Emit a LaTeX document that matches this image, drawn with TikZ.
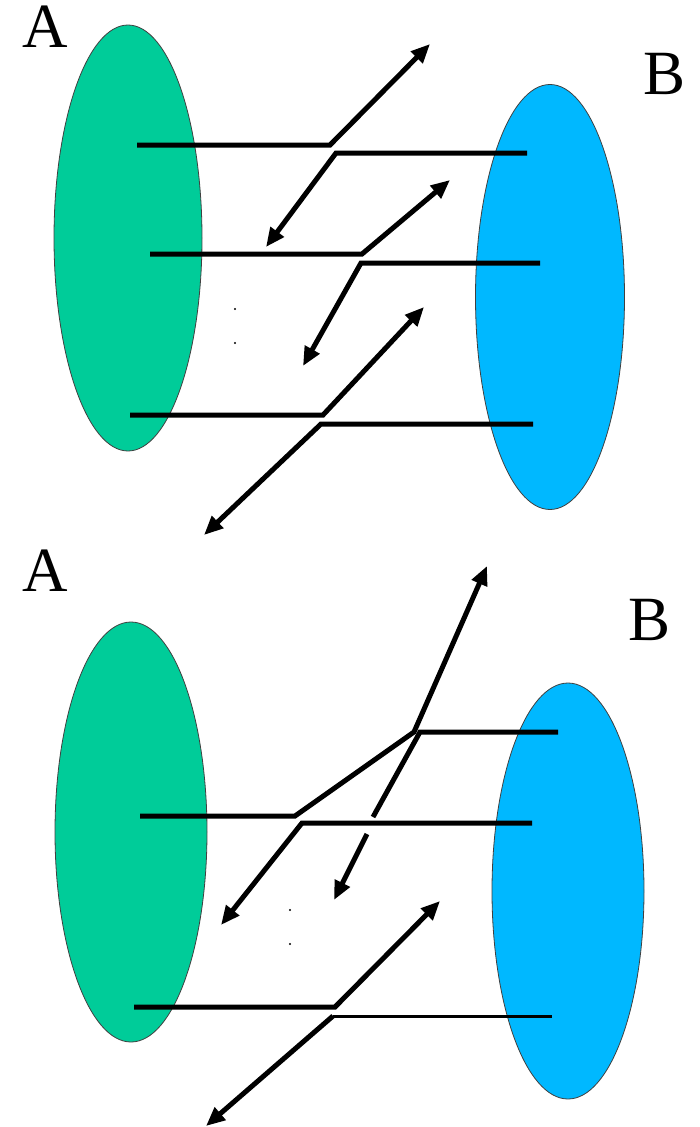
\documentclass[tikz,border=0pt]{standalone}
\usepackage{fontspec}
\setmainfont{Liberation Serif}
\usetikzlibrary{arrows.meta,shapes.geometric}
\definecolor{setgreen}{RGB}{0,204,153}
\definecolor{setblue}{RGB}{0,184,255}
\tikzset{
  setA/.style={ellipse,fill=setgreen,draw=black!75,line width=0.8pt,inner sep=0pt},
  setB/.style={ellipse,fill=setblue,draw=black!75,line width=0.8pt,inner sep=0pt},
  lbl/.style={font=\fontsize{63}{63}\selectfont,inner sep=0pt},
  rel/.style={line width=5pt,line join=miter},
  thinrel/.style={line width=3pt,line join=miter},
  tip/.style={-{Triangle[length=19pt,width=16pt]}},
  pt/.style={circle,fill=black,inner sep=0pt,minimum size=2.2pt}
}
\begin{document}
\begin{tikzpicture}[x=1pt,y=-1pt]
\useasboundingbox (0,0) rectangle (699,1127);
% ---------- top panel ----------
\node[setA,minimum width=148pt,minimum height=426pt] (A1) at (128,238) {};
\node[setB,minimum width=149pt,minimum height=425pt] (B1) at (550,297) {};
\node[lbl] (tA1) at (45,27) {A};
\node[lbl] (tB1) at (665,74) {B};
\coordinate (a1) at (137,145); \coordinate (k1) at (330,145); \coordinate (t1) at (430,44);
\coordinate (b1) at (527,153); \coordinate (k2) at (336,153); \coordinate (t2) at (266,247);
\coordinate (a2) at (150,254); \coordinate (k3) at (362,254); \coordinate (t3) at (450,180);
\coordinate (b2) at (540,263); \coordinate (k4) at (361,263); \coordinate (t4) at (303,366);
\coordinate (a3) at (130,415); \coordinate (k5) at (323,415); \coordinate (t5) at (424,307);
\coordinate (b3) at (533,424); \coordinate (k6) at (321,424); \coordinate (t6) at (204,535);
\draw[rel,tip] (a1) -- (k1) -- (t1);
\draw[rel,tip] (b1) -- (k2) -- (t2);
\draw[rel,tip] (a2) -- (k3) -- (t3);
\draw[rel,tip] (b2) -- (k4) -- (t4);
\draw[rel,tip] (a3) -- (k5) -- (t5);
\draw[rel,tip] (b3) -- (k6) -- (t6);
\node[pt] (d1) at (235,309) {};
\node[pt] (d2) at (235,343) {};
% ---------- bottom panel ----------
\node[setA,minimum width=152pt,minimum height=420pt] (A2) at (131,832) {};
\node[setB,minimum width=152pt,minimum height=416pt] (B2) at (568,891) {};
\node[lbl] (tA2) at (45,571) {A};
\node[lbl] (tB2) at (650,620) {B};
\coordinate (c1) at (140,816); \coordinate (m1) at (295,816); \coordinate (m2) at (414,732); \coordinate (u1) at (487,566);
\coordinate (e1) at (558,732); \coordinate (n1) at (420,732); \coordinate (n2) at (373,817);
\coordinate (n3) at (367,834); \coordinate (u2) at (334,900);
\coordinate (e2) at (532,823); \coordinate (n4) at (302,823); \coordinate (u3) at (221,925);
\coordinate (c2) at (134,1007); \coordinate (m3) at (335,1007); \coordinate (u4) at (440,901);
\coordinate (e3) at (552,1016); \coordinate (n5) at (333,1016); \coordinate (u5) at (206,1126);
\draw[rel,tip] (c1) -- (m1) -- (m2) -- (u1);
\draw[rel] (e1) -- (n1) -- (n2);
\draw[rel,tip] (n3) -- (u2);
\draw[rel,tip] (e2) -- (n4) -- (u3);
\draw[rel,tip] (c2) -- (m3) -- (u4);
\draw[thinrel] (e3) -- (n5);
\draw[rel,tip] (n5) -- (u5);
\node[pt] (d3) at (290,910) {};
\node[pt] (d4) at (290,944) {};
\end{tikzpicture}
\end{document}
